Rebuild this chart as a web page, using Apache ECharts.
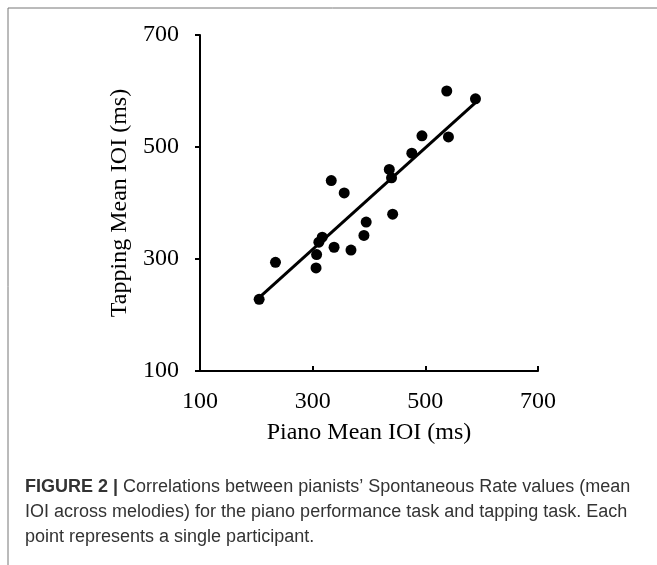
<!DOCTYPE html>
<html>
<head>
<meta charset="utf-8">
<style>
  html, body { margin: 0; padding: 0; background: #fff; }
  #root { width: 657px; height: 565px; }
</style>
<script src="https://cdn.jsdelivr.net/npm/echarts@6/dist/echarts.min.js"></script>
</head>
<body>
<div id="root"></div>
<script>
// values (ms)
const pianoIOI = [538, 589, 494, 541, 476, 436, 440, 333, 356, 442, 395, 391, 317, 311, 338, 368, 307, 234, 306, 205];
const tappingIOI = [600, 586, 520, 518, 489, 460, 445, 440, 418, 380, 366, 342, 339, 330, 321, 316, 308, 294, 284, 228];
// fitted line ends
const trendX = [205, 590];
const trendY = [231, 580];

const captionLines = [
  "Correlations between pianists\u2019 Spontaneous Rate values (mean",
  "IOI across melodies) for the piano performance task and tapping task. Each",
  "point represents a single participant."
];

const serif = "'Liberation Serif', 'Times New Roman', serif";
const sans = "'Liberation Sans', Arial, sans-serif";

const chart = echarts.init(document.getElementById("root"));

chart.setOption({
  animation: false,
  backgroundColor: "#fff",
  grid: { left: 200, right: 119, top: 35, bottom: 194 },
  xAxis: {
    type: "value",
    min: 100, max: 700, interval: 200,
    name: "Piano Mean IOI (ms)",
    nameLocation: "middle",
    nameGap: 50,
    nameTextStyle: { fontFamily: serif, fontSize: 24, color: "#000" },
    axisLine: { lineStyle: { color: "#000", width: 2 } },
    axisTick: { inside: true, length: 5, lineStyle: { color: "#000", width: 2 } },
    axisLabel: { margin: 19, fontFamily: serif, fontSize: 24, color: "#000" },
    splitLine: { show: false }
  },
  yAxis: {
    type: "value",
    min: 100, max: 700, interval: 200,
    name: "Tapping Mean IOI (ms)",
    nameLocation: "middle",
    nameGap: 61,
    nameTextStyle: { fontFamily: serif, fontSize: 24, color: "#000" },
    axisLine: { show: true, lineStyle: { color: "#000", width: 2 } },
    axisTick: { show: true, length: 5, lineStyle: { color: "#000", width: 2 } },
    axisLabel: { margin: 21, fontFamily: serif, fontSize: 24, color: "#000" },
    splitLine: { show: false }
  },
  series: [
    {
      type: "line",
      data: trendX.map((x, i) => [x, trendY[i]]),
      showSymbol: false,
      lineStyle: { color: "#000", width: 3 },
      z: 2
    },
    {
      type: "scatter",
      data: pianoIOI.map((x, i) => [x, tappingIOI[i]]),
      symbolSize: 11,
      itemStyle: { color: "#000", opacity: 1 },
      z: 3
    }
  ],
  graphic: [
    // frame: top and left rules
    { type: "line", shape: { x1: 8, y1: 8, x2: 657, y2: 8 }, style: { stroke: "#777", lineWidth: 1 } },
    { type: "line", shape: { x1: 8, y1: 8, x2: 8, y2: 565 }, style: { stroke: "#777", lineWidth: 1 } },
    {
      type: "text", left: 25, top: 478,
      style: {
        text: "{b|FIGURE 2 |} " + captionLines[0],
        fontFamily: sans, fontSize: 18, fill: "#333",
        rich: { b: { fontFamily: sans, fontSize: 18, fontWeight: "bold", fill: "#333" } }
      }
    },
    { type: "text", left: 25, top: 503, style: { text: captionLines[1], fontFamily: sans, fontSize: 18, fill: "#333" } },
    { type: "text", left: 25, top: 528, style: { text: captionLines[2], fontFamily: sans, fontSize: 18, fill: "#333" } }
  ]
});
</script>
</body>
</html>
